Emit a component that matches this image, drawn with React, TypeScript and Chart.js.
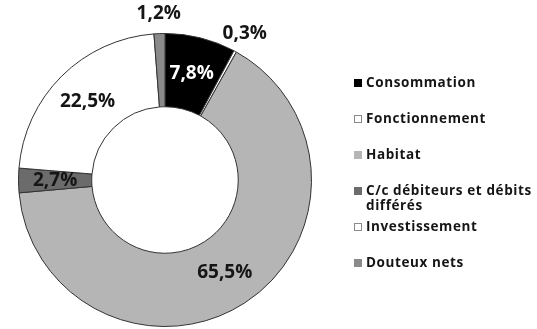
import React, { useEffect, useRef } from "react";
import { Chart, registerables } from "chart.js";

Chart.register(...registerables);

const categories: (string | string[])[] = [
  "Consommation",
  "Fonctionnement",
  "Habitat",
  ["C/c débiteurs et débits", "différés"],
  "Investissement",
  "Douteux nets",
];
const shares = [7.8, 0.3, 65.5, 2.7, 22.5, 1.2];
const sliceColors = ["#000000", "#ffffff", "#b5b5b5", "#6b6b6b", "#ffffff", "#8a8a8a"];

const FONT = "'Open Sans', 'DejaVu Sans', sans-serif";
const fmt = (v: number) => v.toFixed(1).replace(".", ",") + "%";

const sliceLabelPlugin = {
  id: "sliceLabels",
  afterDatasetsDraw(chart: any) {
    const ctx = chart.ctx as CanvasRenderingContext2D;
    const meta = chart.getDatasetMeta(0);
    const values = chart.data.datasets[0].data as number[];
    ctx.save();
    ctx.font = `bold 19px ${FONT}`;
    ctx.textAlign = "center";
    ctx.textBaseline = "middle";
    meta.data.forEach((arc: any, i: number) => {
      const { x, y, startAngle, endAngle, innerRadius, outerRadius } = arc.getProps(
        ["x", "y", "startAngle", "endAngle", "innerRadius", "outerRadius"],
        true
      );
      const mid = (startAngle + endAngle) / 2;
      const v = values[i];
      const r = v < 2 ? outerRadius + 20 : (innerRadius + outerRadius) / 2;
      const px = x + Math.cos(mid) * r;
      const py = y + Math.sin(mid) * r;
      ctx.fillStyle = sliceColors[i] === "#000000" ? "#ffffff" : "#151515";
      ctx.fillText(fmt(v), px, py);
    });
    ctx.restore();
  },
};

const sideLegendPlugin = {
  id: "sideLegend",
  afterDraw(chart: any) {
    const ctx = chart.ctx as CanvasRenderingContext2D;
    const left = chart.chartArea.right + 42;
    const top = chart.chartArea.top + 50;
    const step = 36;
    const box = 8;
    ctx.save();
    ctx.font = `bold 13.5px ${FONT}`;
    (ctx as any).letterSpacing = "0.6px";
    ctx.textAlign = "left";
    ctx.textBaseline = "middle";
    (chart.data.labels as (string | string[])[]).forEach((lab, i) => {
      const cy = top + i * step;
      ctx.fillStyle = sliceColors[i];
      ctx.fillRect(left, cy - box / 2, box, box);
      ctx.strokeStyle = sliceColors[i] === "#ffffff" ? "#8a8a8a" : sliceColors[i];
      ctx.lineWidth = 1;
      ctx.strokeRect(left + 0.5, cy - box / 2 + 0.5, box - 1, box - 1);
      ctx.fillStyle = "#151515";
      const lines = Array.isArray(lab) ? lab : [lab];
      lines.forEach((t, k) => ctx.fillText(t, left + 12, cy + k * 15));
    });
    ctx.restore();
  },
};

export default function App() {
  const ref = useRef<HTMLCanvasElement | null>(null);
  useEffect(() => {
    if (!ref.current) return;
    const chart = new Chart(ref.current, {
      type: "doughnut",
      data: {
        labels: categories as any,
        datasets: [
          {
            data: shares,
            backgroundColor: sliceColors,
            borderColor: "#333333",
            borderWidth: 1,
          },
        ],
      },
      options: {
        responsive: false,
        animation: false,
        cutout: "50%",
        layout: { padding: { left: 18, right: 225, top: 33, bottom: 2 } },
        plugins: {
          legend: { display: false },
          tooltip: { enabled: false },
        },
      },
      plugins: [sliceLabelPlugin, sideLegendPlugin],
    });
    return () => chart.destroy();
  }, []);
  return (
    <div style={{ position: "absolute", left: 0, top: 0, width: 537, height: 329, background: "#fff" }}>
      <canvas ref={ref} width={537} height={329} />
    </div>
  );
}
